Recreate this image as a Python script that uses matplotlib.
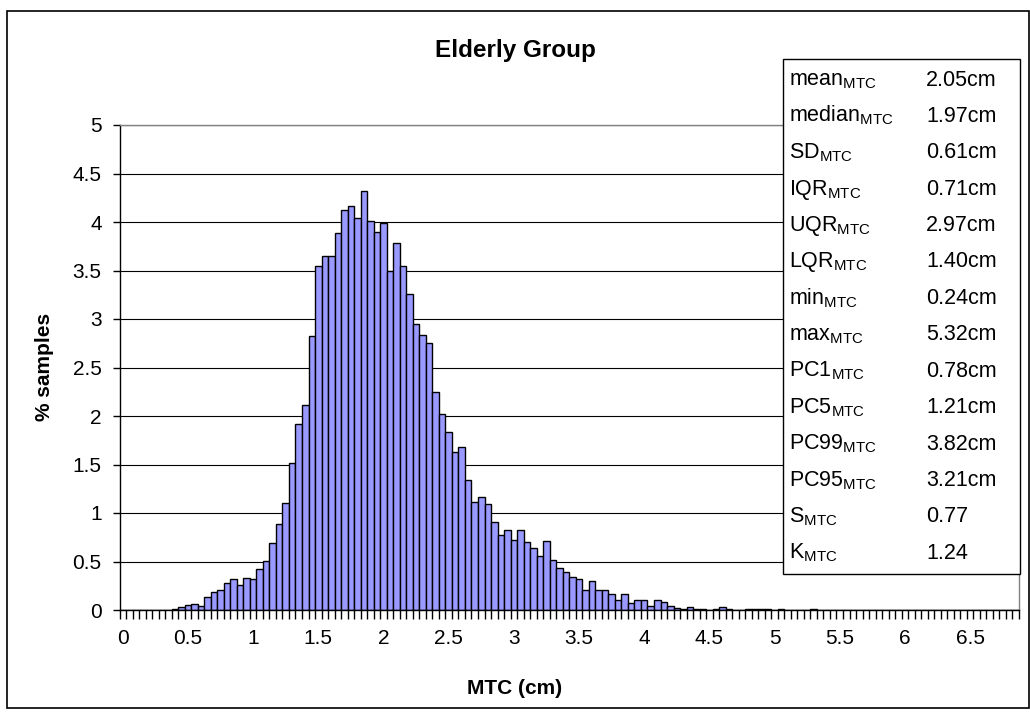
import numpy as np
import matplotlib
matplotlib.use("Agg")
import matplotlib.pyplot as plt
from matplotlib.patches import Rectangle

plt.rcParams['font.family'] = ['Liberation Sans', 'DejaVu Sans']
plt.rcParams['mathtext.fontset'] = 'custom'
plt.rcParams['mathtext.rm'] = 'Liberation Sans'
plt.rcParams['mathtext.it'] = 'Liberation Sans'

# ---- data ----
bin_width = 0.05
n_bins = 138
mtc_bins = np.round(np.arange(n_bins) * bin_width, 2)   # category centres 0 .. 6.85 cm

pct_samples = [
    0, 0, 0, 0, 0, 0, 0, 0,                                   # 0.00 - 0.35
    0.014, 0.03, 0.048, 0.065, 0.045, 0.134, 0.19, 0.21,      # 0.40 - 0.75
    0.275, 0.316, 0.258, 0.333, 0.316, 0.42, 0.51, 0.69,      # 0.80 - 1.15
    0.89, 1.10, 1.52, 1.92, 2.11, 2.82, 3.55, 3.65,           # 1.20 - 1.55
    3.65, 3.89, 4.12, 4.16, 4.04, 4.32, 4.01, 3.90,           # 1.60 - 1.95
    3.99, 3.49, 3.78, 3.55, 3.26, 2.95, 2.84, 2.75,           # 2.00 - 2.35
    2.25, 2.02, 1.83, 1.63, 1.68, 1.34, 1.11, 1.16,           # 2.40 - 2.75
    1.09, 0.91, 0.77, 0.82, 0.72, 0.82, 0.70, 0.64,           # 2.80 - 3.15
    0.555, 0.71, 0.52, 0.43, 0.39, 0.34, 0.32, 0.21,          # 3.20 - 3.55
    0.30, 0.21, 0.21, 0.165, 0.10, 0.17, 0.075, 0.10,         # 3.60 - 3.95
    0.10, 0.045, 0.10, 0.08, 0.04, 0.025, 0.015, 0.03,        # 4.00 - 4.35
    0.015, 0.015, 0, 0.015, 0.03, 0.015, 0, 0,                # 4.40 - 4.75
    0.012, 0.012, 0.012, 0.012, 0, 0.012, 0, 0,               # 4.80 - 5.15
    0, 0, 0.012, 0, 0, 0, 0, 0,                               # 5.20 - 5.55
]
pct_samples = pct_samples + [0] * (n_bins - len(pct_samples))

x_tick_vals = np.arange(0, 6.51, 0.5)
x_tick_labels = ['0', '0.5', '1', '1.5', '2', '2.5', '3', '3.5', '4', '4.5',
                 '5', '5.5', '6', '6.5']
y_tick_vals = np.arange(0, 5.01, 0.5)
y_tick_labels = ['0', '0.5', '1', '1.5', '2', '2.5', '3', '3.5', '4', '4.5', '5']

stat_names = ['mean', 'median', 'SD', 'IQR', 'UQR', 'LQR', 'min', 'max',
              'PC1', 'PC5', 'PC99', 'PC95', 'S', 'K']
stat_values = ['2.05cm', '1.97cm', '0.61cm', '0.71cm', '2.97cm', '1.40cm',
               '0.24cm', '5.32cm', '0.78cm', '1.21cm', '3.82cm', '3.21cm',
               '0.77', '1.24']

W, H = 1030, 719
fig = plt.figure(figsize=(W / 100, H / 100), dpi=100)

def px(x, y):
    return x / W, 1 - y / H

# plot area
ax = fig.add_axes([119.5 / W, 1 - 610 / H, (1019 - 119.5) / W, (610 - 125) / H])
ax.set_axisbelow(True)
ax.bar(mtc_bins, pct_samples, width=bin_width, color='#9999FF',
       edgecolor='black', linewidth=1.0, zorder=2)

ax.set_xlim(-bin_width / 2, mtc_bins[-1] + bin_width / 2)
ax.set_ylim(0, 5)
ax.set_xticks(x_tick_vals)
ax.set_xticklabels(x_tick_labels, fontsize=15)
ax.set_xticks(np.arange(n_bins + 1) * bin_width - bin_width / 2, minor=True)
ax.tick_params(axis='x', which='major', length=0, pad=14)
ax.tick_params(axis='x', which='minor', length=6.5, width=1.0,
               direction='out', color='black')
ax.set_yticks(y_tick_vals)
ax.set_yticklabels(y_tick_labels, fontsize=15)
ax.tick_params(axis='y', which='major', length=4.8, width=1.0,
               direction='out', pad=8)
ax.yaxis.grid(True, color='black', linewidth=0.8)

for side in ['left', 'bottom']:
    ax.spines[side].set_color('black')
    ax.spines[side].set_linewidth(1.0)
for side in ['top', 'right']:
    ax.spines[side].set_color('#808080')
    ax.spines[side].set_linewidth(1.0)

# titles
fig.text(*px(515, 50), 'Elderly Group', fontsize=17.5, fontweight='bold',
         ha='center', va='center')
fig.text(*px(515, 688), 'MTC (cm)', fontsize=15, fontweight='bold',
         ha='center', va='center')
fig.text(*px(45, 367), '% samples', fontsize=15, fontweight='bold',
         ha='center', va='center', rotation=90)

# statistics box
bx0, by0 = px(783, 574)
bx1, by1 = px(1020, 59)
fig.add_artist(Rectangle((bx0, by0), bx1 - bx0, by1 - by0,
                         transform=fig.transFigure, facecolor='white',
                         edgecolor='black', linewidth=1.0, zorder=3))
for i, (name, val) in enumerate(zip(stat_names, stat_values)):
    yb = 85.5 + 36.4 * i
    fig.text(*px(789, yb), name + r'$_{\mathrm{MTC}}$', fontsize=15.5,
             ha='left', va='baseline', zorder=4)
    fig.text(*px(926, yb), val, fontsize=15.5, ha='left', va='baseline',
             zorder=4)

# chart-area frame
fx0, fy0 = px(7, 708)
fx1, fy1 = px(1029, 11)
fig.add_artist(Rectangle((fx0, fy0), fx1 - fx0, fy1 - fy0,
                         transform=fig.transFigure, fill=False,
                         edgecolor='black', linewidth=1.2, zorder=5))

fig.savefig('out.png', dpi=100)
